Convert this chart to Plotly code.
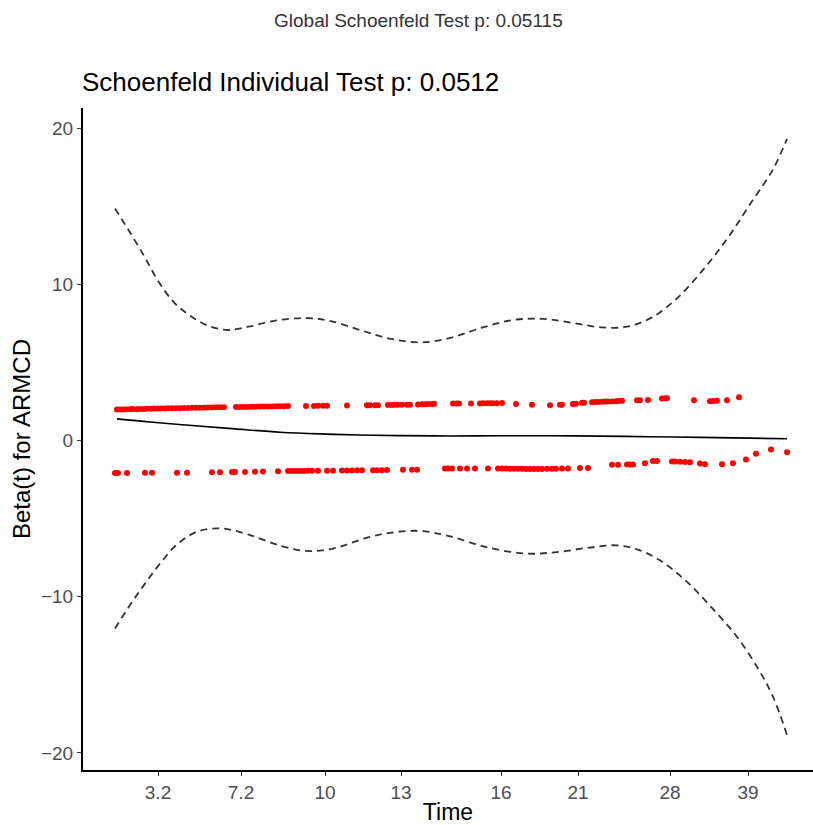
import plotly.graph_objects as go

# transformed-time scale (km-transformed), arbitrary units
tick_pos = [43, 126, 210, 286, 386, 463, 555, 633]
tick_text = ["3.2", "7.2", "10", "13", "16", "21", "28", "39"]

# scaled Schoenfeld residuals (beta(t)) - upper band
upper_pts = [
    (2, 1.98), (5, 1.99), (8, 1.98), (11, 2.00), (15, 2.00), (18, 2.01), (22, 2.00), (25, 2.02),
    (29, 2.02), (32, 2.03), (36, 2.03), (39, 2.04), (43, 2.04), (46, 2.05), (50, 2.05), (53, 2.06),
    (57, 2.06), (61, 2.07), (65, 2.07), (69, 2.08), (73, 2.08), (77, 2.09), (81, 2.09), (85, 2.10),
    (89, 2.10), (93, 2.11), (97, 2.11), (101, 2.12), (105, 2.12), (109, 2.13), (121, 2.14), (125, 2.14),
    (129, 2.15), (133, 2.15), (137, 2.16), (141, 2.16), (145, 2.17), (149, 2.17), (153, 2.18), (157, 2.18),
    (161, 2.19), (165, 2.19), (169, 2.19), (173, 2.20), (191, 2.21), (199, 2.21), (203, 2.22), (208, 2.22),
    (212, 2.23), (232, 2.24), (252, 2.25), (255, 2.25), (260, 2.26), (263, 2.26), (273, 2.27), (277, 2.27),
    (280, 2.28), (283, 2.28), (287, 2.28), (292, 2.29), (295, 2.29), (303, 2.31), (307, 2.32), (310, 2.32),
    (313, 2.33), (317, 2.34), (319, 2.35), (338, 2.36), (342, 2.36), (344, 2.36), (356, 2.37), (365, 2.37),
    (368, 2.38), (372, 2.38), (375, 2.38), (378, 2.39), (382, 2.39), (387, 2.40), (401, 2.34), (417, 2.28),
    (435, 2.25), (445, 2.28), (447, 2.28), (458, 2.34), (461, 2.35), (467, 2.41), (469, 2.42), (477, 2.45),
    (480, 2.46), (483, 2.47), (487, 2.48), (490, 2.49), (493, 2.50), (497, 2.50), (501, 2.51), (503, 2.52),
    (507, 2.55), (522, 2.58), (525, 2.58), (533, 2.59), (547, 2.69), (550, 2.70), (552, 2.71), (579, 2.58),
    (595, 2.51), (598, 2.53), (602, 2.55), (612, 2.57), (624, 2.76),
]

# scaled Schoenfeld residuals - lower band
lower_pts = [
    (0, -2.08), (3, -2.08), (12, -2.08), (30, -2.07), (37, -2.07), (62, -2.06), (72, -2.06), (97, -2.04),
    (105, -2.03), (117, -2.02), (120, -2.02), (130, -2.01), (140, -2.00), (148, -1.99), (163, -1.97),
    (173, -1.96), (177, -1.96), (181, -1.95), (185, -1.95), (189, -1.95), (193, -1.94), (197, -1.94),
    (203, -1.94), (212, -1.93), (218, -1.93), (227, -1.92), (232, -1.92), (237, -1.92), (242, -1.91),
    (247, -1.91), (258, -1.90), (262, -1.90), (267, -1.90), (272, -1.89), (288, -1.88), (297, -1.88),
    (302, -1.87), (330, -1.80), (333, -1.80), (337, -1.80), (345, -1.80), (352, -1.80), (360, -1.80),
    (373, -1.79), (383, -1.80), (387, -1.80), (391, -1.80), (395, -1.81), (399, -1.81), (403, -1.81),
    (407, -1.81), (411, -1.82), (415, -1.82), (419, -1.82), (423, -1.82), (427, -1.82), (432, -1.81),
    (437, -1.81), (441, -1.81), (447, -1.80), (453, -1.79), (465, -1.76), (473, -1.76), (497, -1.55),
    (503, -1.55), (512, -1.53), (515, -1.53), (518, -1.53), (530, -1.45), (538, -1.32), (542, -1.32),
    (557, -1.35), (560, -1.35), (565, -1.36), (570, -1.38), (575, -1.40), (585, -1.48), (590, -1.52),
    (607, -1.52), (618, -1.45), (631, -1.22), (641, -0.85), (656, -0.57), (672, -0.75),
]

# smoothed beta(t) and confidence band
fit_t = [2, 35, 77, 120, 165, 205, 245, 285, 335, 385, 435, 485, 535, 585, 635, 672]
fit_y = [1.38, 1.18, 0.96, 0.74, 0.53, 0.42, 0.35, 0.31, 0.29, 0.30, 0.30, 0.28, 0.24, 0.20, 0.15, 0.11]

upper_t = [0, 16, 30, 43, 59, 75, 93, 113, 133, 160, 191, 214, 245, 276, 306, 335, 366, 398, 429,
           460, 487, 512, 537, 563, 590, 613, 635, 658, 672]
upper_y = [14.85, 13.21, 11.71, 10.22, 8.84, 7.99, 7.35, 7.07, 7.28, 7.67, 7.84, 7.67, 7.07, 6.50,
           6.28, 6.56, 7.20, 7.71, 7.78, 7.50, 7.24, 7.28, 7.88, 9.16, 11.07, 12.99, 15.12, 17.36, 19.3]

lower_t = [0, 16, 30, 45, 63, 84, 108, 133, 164, 191, 218, 254, 281, 306, 335, 371, 411, 442, 474,
           501, 523, 545, 572, 599, 622, 644, 658, 672]
lower_y = [-12.03, -10.44, -9.16, -7.88, -6.60, -5.79, -5.64, -6.01, -6.71, -7.07, -6.92, -6.18,
           -5.86, -5.79, -6.13, -6.82, -7.24, -7.14, -6.86, -6.71, -6.99, -7.67, -9.05, -10.86,
           -12.57, -14.70, -16.40, -18.85]

FONT = "Liberation Sans, Arial, sans-serif"

fig = go.Figure()
for pts in (upper_pts, lower_pts):
    fig.add_trace(go.Scatter(
        x=[p[0] for p in pts], y=[p[1] for p in pts], mode="markers",
        marker=dict(color="#ff0000", size=6, line=dict(width=0)), showlegend=False))

fig.add_trace(go.Scatter(x=fit_t, y=fit_y, mode="lines", line=dict(color="black", width=1.6, shape="spline"),
                         showlegend=False))
for tt, yy in ((upper_t, upper_y), (lower_t, lower_y)):
    fig.add_trace(go.Scatter(x=tt, y=yy, mode="lines",
                             line=dict(color="#333333", width=1.8, dash="7px,5px", shape="spline"),
                             showlegend=False))

fig.update_layout(
    width=813, height=825,
    margin=dict(l=83, r=0, t=108, b=55),
    plot_bgcolor="white", paper_bgcolor="white",
    font=dict(family=FONT, color="black"),
    xaxis=dict(range=[-32, 698], tickmode="array", tickvals=tick_pos, ticktext=tick_text,
               showgrid=False, zeroline=False, showline=True, linecolor="black", linewidth=2,
               ticks="outside", ticklen=4, tickwidth=1.2, tickcolor="#333333",
               tickfont=dict(size=19, color="#4d4d4d"),
               title=dict(text="Time", font=dict(size=23, color="black"), standoff=2)),
    yaxis=dict(range=[-21.09, 21.28], tickmode="array", tickvals=[-20, -10, 0, 10, 20],
               ticktext=["\u221220", "\u221210", "0", "10", "20"],
               showgrid=False, zeroline=False, showline=True, linecolor="black", linewidth=2,
               ticks="outside", ticklen=4, tickwidth=1.2, tickcolor="#333333",
               tickfont=dict(size=19, color="#4d4d4d"),
               title=dict(text="Beta(t) for ARMCD", font=dict(size=24, color="black"), standoff=4)),
    annotations=[
        dict(text="Global Schoenfeld Test p: 0.05115", xref="paper", yref="paper",
             x=(418 - 83) / 730, y=(770 - 20) / 662, xanchor="center", yanchor="middle",
             showarrow=False, font=dict(size=19, color="#333333")),
        dict(text="Schoenfeld Individual Test p: 0.0512", xref="paper", yref="paper",
             x=-0.004, y=(770 - 82) / 662, xanchor="left", yanchor="middle",
             showarrow=False, font=dict(size=26, color="black")),
    ],
)

fig.write_html("out.html")
